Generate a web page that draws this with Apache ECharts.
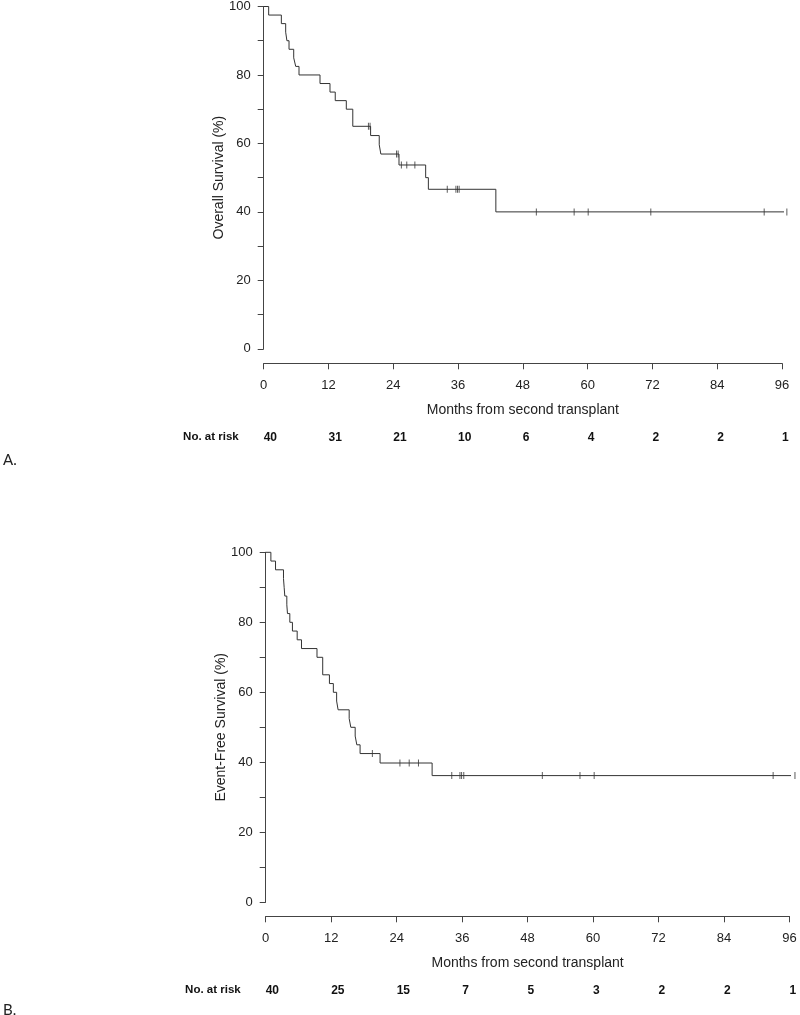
<!DOCTYPE html>
<html>
<head>
<meta charset="utf-8">
<script src="https://cdn.jsdelivr.net/npm/echarts@6/dist/echarts.min.js"></script>
<style>
html,body{margin:0;padding:0;background:#fff;}
#c{width:800px;height:1015px;}
</style>
</head>
<body>
<div id="c"></div>
<script>
// ---- Data ----
const riskTimes = [0, 12, 24, 36, 48, 60, 72, 84, 96];
const riskOS  = [40, 31, 21, 10, 6, 4, 2, 2, 1];
const riskEFS = [40, 25, 15, 7, 5, 3, 2, 2, 1];

// Overall survival: step times (months) and survival (%)
const osTimes = [0, 0.92, 3.27, 4.07, 4.3, 4.69, 5.56, 5.93, 6.54, 10.43, 12.28, 13.25, 15.3, 16.5, 19.8, 21.4, 21.7, 25.06, 30.0, 30.5, 43.0, 97.2];
const osSurv  = [100, 97.5, 95, 92.5, 90, 87.5, 85, 82.5, 80, 77.5, 75, 72.5, 70, 65, 62.3, 59.6, 56.9, 53.7, 50.0, 46.6, 40.0, 40.0];
const osCensor = [19.4, 19.7, 24.6, 24.9, 25.5, 26.5, 28.0, 34.0, 35.6, 35.9, 36.2, 50.5, 57.5, 60.1, 71.7, 92.7, 96.9];

// Event-free survival
const efsTimes = [0, 0.95, 1.8, 3.26, 3.38, 3.5, 3.87, 3.99, 4.42, 4.9, 5.77, 6.56, 9.4, 10.45, 11.68, 12.4, 13.0, 13.27, 15.3, 15.6, 16.4, 16.7, 17.3, 20.96, 30.5, 97.5];
const efsSurv  = [100, 97.5, 95, 92.5, 90, 87.5, 85, 82.5, 80, 77.5, 75, 72.5, 70, 65, 62.5, 60, 57.5, 55, 52.5, 50, 47.5, 45, 42.5, 39.8, 36.2, 36.2];
const efsCensor = [19.55, 24.6, 26.3, 28.0, 34.1, 35.6, 35.9, 36.3, 50.7, 57.6, 60.2, 93.0, 97.0];

// ---- helpers ----
function pairs(xs, ys) { return xs.map((x, i) => [x, ys[i]]); }
function survAt(xs, ys, t) {
  let v = ys[0];
  for (let i = 0; i < xs.length; i++) { if (xs[i] <= t) v = ys[i]; }
  return v;
}
function censorPts(cs, xs, ys) { return cs.map(t => [t, survAt(xs, ys, t)]); }

const FONT = '"Liberation Sans", Arial, Helvetica, sans-serif';
const TXT = '#222';
const AX = '#444';
const LINE = '#333';

function mainX(gi, offset, name) {
  return {
    type: 'value', gridIndex: gi, min: 0, max: 96, interval: 12,
    position: 'bottom', offset: offset,
    axisLine: { show: true, onZero: false, lineStyle: { color: AX, width: 1 } },
    axisTick: { show: true, length: 6, lineStyle: { color: AX } },
    axisLabel: { color: TXT, fontSize: 13, fontFamily: FONT, margin: 16 },
    splitLine: { show: false },
    name: name, nameLocation: 'middle', nameGap: 40, nameMoveOverlap: false,
    nameTextStyle: { color: TXT, fontSize: 14, fontFamily: FONT }
  };
}
function riskX(gi, offset, risk) {
  return {
    type: 'value', gridIndex: gi, min: 0, max: 96, interval: 12,
    position: 'bottom', offset: offset,
    axisLine: { show: false, onZero: false },
    axisTick: { show: false },
    splitLine: { show: false },
    axisLabel: {
      color: '#111', fontSize: 12, fontWeight: 'bold', fontFamily: FONT,
      margin: 0, align: 'left', verticalAlign: 'middle',
      formatter: v => { const i = riskTimes.indexOf(v); return i >= 0 ? String(risk[i]) : ''; }
    },
    name: 'No. at risk', nameLocation: 'start', nameGap: 25, nameMoveOverlap: false,
    nameTextStyle: { color: '#111', fontSize: 11.5, fontWeight: 'bold', fontFamily: FONT, verticalAlign: 'middle', align: 'right' }
  };
}
function mainY(gi, name) {
  return {
    type: 'value', gridIndex: gi, min: 0, max: 100, interval: 10,
    axisLine: { show: true, onZero: false, lineStyle: { color: AX, width: 1 } },
    axisTick: { show: true, length: 6, lineStyle: { color: AX } },
    axisLabel: { color: TXT, fontSize: 13, fontFamily: FONT, margin: 13,
      formatter: v => (v % 20 === 0 ? String(v) : '') },
    splitLine: { show: false },
    name: name, nameLocation: 'middle', nameGap: 38, nameMoveOverlap: false,
    nameTextStyle: { color: TXT, fontSize: 14, fontFamily: FONT }
  };
}
function curve(xi, yi, xs, ys) {
  return {
    type: 'line', xAxisIndex: xi, yAxisIndex: yi, step: 'end', clip: false,
    data: pairs(xs, ys), symbol: 'none', silent: true, animation: false,
    lineStyle: { color: LINE, width: 1 }
  };
}
function censors(xi, yi, cs, xs, ys) {
  return {
    type: 'scatter', xAxisIndex: xi, yAxisIndex: yi, clip: false,
    data: censorPts(cs, xs, ys), symbol: 'rect', symbolSize: [1, 7],
    itemStyle: { color: LINE }, silent: true, animation: false
  };
}

const chart = echarts.init(document.getElementById('c'), null, { renderer: 'canvas' });
chart.setOption({
  backgroundColor: '#fff',
  animation: false,
  grid: [
    { left: 263.7, top: 4.3, width: 518.3, height: 344.5 },
    { left: 265.7, top: 552.3, width: 523.8, height: 350 }
  ],
  xAxis: [
    mainX(0, 14.5, 'Months from second transplant'),
    riskX(0, 88.5, riskOS),
    mainX(1, 14, 'Months from second transplant'),
    riskX(1, 88, riskEFS)
  ],
  yAxis: [
    mainY(0, 'Overall Survival (%)'),
    mainY(1, 'Event-Free Survival (%)')
  ],
  series: [
    curve(0, 0, osTimes, osSurv),
    censors(0, 0, osCensor, osTimes, osSurv),
    curve(2, 1, efsTimes, efsSurv),
    censors(2, 1, efsCensor, efsTimes, efsSurv)
  ],
  graphic: [
    { type: 'text', left: 3, top: 453, style: { text: 'A.', fontSize: 15, fontFamily: 'Lato, "Open Sans", sans-serif', fill: '#222' } },
    { type: 'text', left: 3, top: 1003, style: { text: 'B.', fontSize: 15, fontFamily: 'Lato, "Open Sans", sans-serif', fill: '#222' } }
  ]
});
</script>
</body>
</html>
